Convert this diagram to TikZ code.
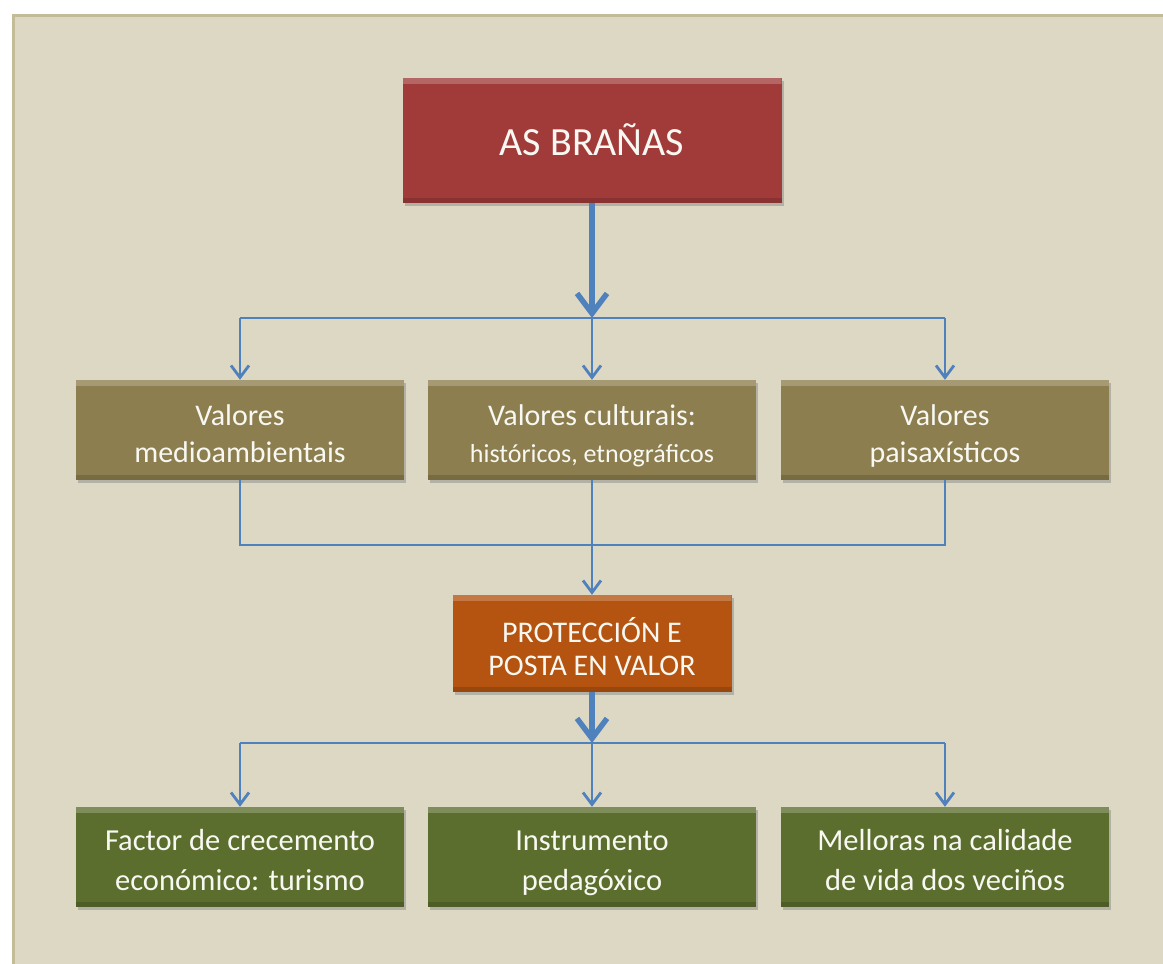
\documentclass[tikz,border=0pt]{standalone}
\usepackage{fontspec}
\setmainfont{Carlito}
\usetikzlibrary{arrows.meta,shadows}

\definecolor{fondo}{RGB}{221,216,196}
\definecolor{bordo}{RGB}{196,188,150}
\definecolor{vermello}{RGB}{160,59,58}
\definecolor{oliva}{RGB}{140,126,78}
\definecolor{laranxa}{RGB}{180,84,16}
\definecolor{verde}{RGB}{92,110,45}
\definecolor{frecha}{RGB}{79,129,189}
\definecolor{texto}{RGB}{248,248,242}

\tikzset{
	caixa/.style={rectangle,text=texto,align=center,inner sep=0pt,text depth=0pt,
		drop shadow={shadow xshift=2pt,shadow yshift=-3pt,opacity=0.45},
		path picture={
			\fill[white,opacity=0.22] (path picture bounding box.north west) rectangle ([yshift=-6pt]path picture bounding box.north east);
			\fill[black,opacity=0.15] (path picture bounding box.south west) rectangle ([yshift=5pt]path picture bounding box.south east);
		}},
	valor/.style={caixa,fill=oliva,minimum width=328pt,minimum height=100pt,font=\fontsize{30}{37}\selectfont,text height=64pt},
	efecto/.style={caixa,fill=verde,minimum width=328pt,minimum height=100pt,font=\fontsize{30.5}{40}\selectfont,text height=66pt},
	linha/.style={draw=frecha,line width=2.8pt},
	fino/.style={linha,-{Straight Barb[length=12pt,width=18pt,line width=2.8pt]}},
	groso/.style={draw=frecha,line width=6pt,-{Straight Barb[length=20pt,width=30pt,line width=5.5pt]}}
}

\begin{document}
\begin{tikzpicture}[x=1pt,y=-1pt]
	\useasboundingbox (0,0) rectangle (1163,964);
	\fill[fondo] (12,14) rectangle (1170,970);
	\draw[bordo,line width=3pt] (13.5,970) -- (13.5,15.5) -- (1170,15.5);

	\node [caixa,fill=vermello,minimum width=379pt,minimum height=125pt,font=\fontsize{40}{46}\selectfont,text height=29pt] (brana) at (592,140.5) {AS BRAÑAS};

	\node [valor] (medio) at (240,430) {Valores\\medioambientais};
	\node [valor] (cultur) at (592,430) {Valores culturais:\\{\fontsize{26}{37}\selectfont históricos, etnográficos}};
	\node [valor] (paisa) at (945,430) {Valores\\paisaxísticos};

	\node [caixa,fill=laranxa,minimum width=279pt,minimum height=97pt,font=\fontsize{30}{33}\selectfont,text height=63pt] (protec) at (592,643.5) {PROTECCIÓN E\\POSTA EN VALOR};

	\node [efecto] (turis) at (240,857) {Factor de crecemento\\económico: turismo};
	\node [efecto] (pedag) at (592,857) {Instrumento\\pedagóxico};
	\node [efecto] (vida) at (945,857) {Melloras na calidade\\de vida dos veciños};

	\coordinate (x1) at (592,318);
	\coordinate (x2) at (592,545);
	\coordinate (x3) at (592,743);

	% dende as brañas
	\draw[groso] (brana) -- (x1);
	\draw[linha] (medio.north |- x1) -- (paisa.north |- x1);
	\foreach \n in {medio,cultur,paisa}
		\draw[fino] (\n.north |- x1) -- (\n.north);

	% cara a proteccion
	\draw[linha] (medio.south) |- (x2) -| (paisa.south);
	\draw[fino] (cultur) -- (protec);

	% efectos
	\draw[groso] (protec) -- (x3);
	\draw[linha] (turis.north |- x3) -- (vida.north |- x3);
	\foreach \n in {turis,pedag,vida}
		\draw[fino] (\n.north |- x3) -- (\n.north);
\end{tikzpicture}
\end{document}
